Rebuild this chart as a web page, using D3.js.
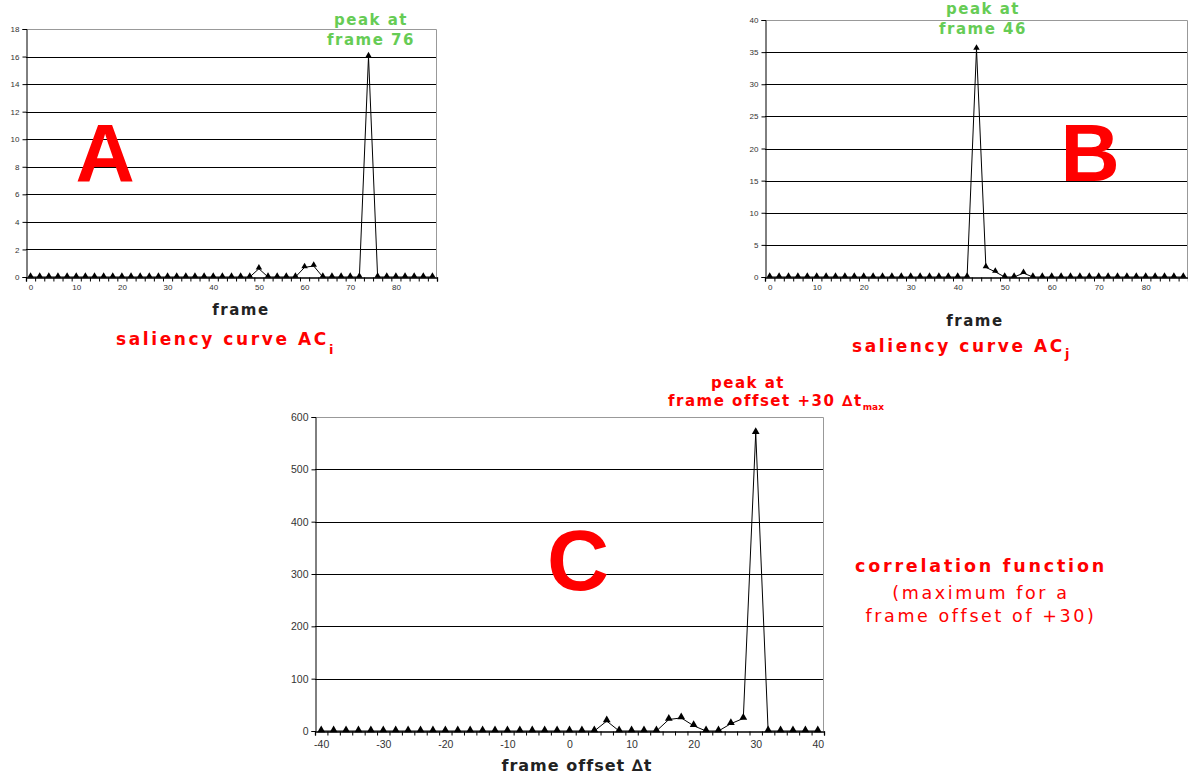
<!DOCTYPE html>
<html>
<head>
<meta charset="utf-8">
<script src="https://cdn.jsdelivr.net/npm/d3@7"></script>
<style>
    body { margin: 0; background: #fff; }
    svg { display: block; }
    .tick text { fill: #333; }
</style>
</head>
<body>
<svg id="figure" width="1188" height="778"></svg>
<script>
// frames sampled every 2 frames (curves A and B)
let framesA = [0, 2, 4, 6, 8, 10, 12, 14, 16, 18, 20, 22, 24, 26, 28, 30, 32, 34, 36, 38, 40, 42, 44,
    46, 48, 50, 52, 54, 56, 58, 60, 62, 64, 66, 68, 70, 72, 74, 76, 78, 80, 82, 84, 86, 88];
let valuesA = [0, 0, 0, 0, 0, 0, 0, 0, 0, 0, 0, 0, 0, 0, 0, 0, 0, 0, 0, 0, 0, 0, 0,
    0, 0, 0.6, 0, 0, 0, 0, 0.7, 0.8, 0, 0, 0, 0, 0, 16, 0, 0, 0, 0, 0, 0, 0];

let framesB = framesA;
let valuesB = [0, 0, 0, 0, 0, 0, 0, 0, 0, 0, 0, 0, 0, 0, 0, 0, 0, 0, 0, 0, 0, 0, 35.5,
    1.5, 0.8, 0, 0, 0.6, 0, 0, 0, 0, 0, 0, 0, 0, 0, 0, 0, 0, 0, 0, 0, 0, 0];

// frame offsets for the correlation function
let offsetsC = [-40, -38, -36, -34, -32, -30, -28, -26, -24, -22, -20, -18, -16, -14, -12, -10, -8, -6, -4, -2,
    0, 2, 4, 6, 8, 10, 12, 14, 16, 18, 20, 22, 24, 26, 28, 30, 32, 34, 36, 38, 40];
let valuesC = [0, 0, 0, 0, 0, 0, 0, 0, 0, 0, 0, 0, 0, 0, 0, 0, 0, 0, 0, 0,
    0, 0, 0, 19, 0, 0, 0, 0, 22, 25, 10, 0, 0, 14, 24, 570, 0, 0, 0, 0, 0];

let xLabelsAB = [0, 10, 20, 30, 40, 50, 60, 70, 80];
let yTicksA = [0, 2, 4, 6, 8, 10, 12, 14, 16, 18];
let yTicksB = [0, 5, 10, 15, 20, 25, 30, 35, 40];
let xLabelsC = [-40, -30, -20, -10, 0, 10, 20, 30, 40];
let yTicksC = [0, 100, 200, 300, 400, 500, 600];

let svg = d3.select("#figure");
// plain hyphen for negatives, like the original spreadsheet
let plain = function (d) { return String(d); };

function drawChart(o) {
    let x = d3.scaleLinear().domain(o.xDomain).range([o.left, o.right]);
    let y = d3.scaleLinear().domain(o.yDomain).range([o.bottom, o.top]);
    let g = svg.append("g");

    // horizontal grid lines
    g.selectAll(".grid")
        .data(o.yTicks.slice(1, -1))
        .enter().append("line")
        .attr("x1", o.left).attr("x2", o.right)
        .attr("y1", function (d) { return Math.round(y(d)) + 0.5; })
        .attr("y2", function (d) { return Math.round(y(d)) + 0.5; })
        .attr("stroke", "#000")
        .attr("stroke-width", 1);

    // top and right border
    g.append("path")
        .attr("d", "M" + o.left + "," + (Math.round(o.top) + 0.5) + "H" + (o.right - 0.5) + "V" + o.bottom)
        .attr("fill", "none")
        .attr("stroke", "#999");

    // y axis
    let yAxis = g.append("g")
        .attr("transform", "translate(" + (o.left + 0.5) + ",0)")
        .call(d3.axisLeft(y).tickValues(o.yTicks).tickSize(4).tickPadding(3).tickFormat(plain));
    yAxis.selectAll("text")
        .attr("font-family", "Liberation Sans, Arial, sans-serif")
        .attr("font-size", o.tickFont);

    // x axis: minor ticks between the categories, labels on the values
    let minor = o.xData.map(function (d) { return d - 1; }).concat([o.xData[o.xData.length - 1] + 1]);
    let xAxis = g.append("g")
        .attr("transform", "translate(0," + (Math.round(o.bottom) + 0.5) + ")")
        .call(d3.axisBottom(x).tickValues(minor).tickSize(4).tickFormat(""));
    xAxis.select(".domain").attr("stroke-width", 1.3);

    let xLab = g.append("g")
        .attr("transform", "translate(0," + (Math.round(o.bottom) + 0.5) + ")")
        .call(d3.axisBottom(x).tickValues(o.xLabels).tickSize(0).tickPadding(o.labelPad).tickFormat(plain));
    xLab.select(".domain").remove();
    xLab.selectAll("text")
        .attr("font-family", "Liberation Sans, Arial, sans-serif")
        .attr("font-size", o.tickFont);

    // the curve
    let line = d3.line()
        .x(function (d, i) { return x(o.xData[i]); })
        .y(function (d) { return y(d); });

    g.append("path")
        .datum(o.values)
        .attr("d", line)
        .attr("fill", "none")
        .attr("stroke", "#000")
        .attr("stroke-width", 1);

    g.selectAll(".marker")
        .data(o.values)
        .enter().append("path")
        .attr("class", "marker")
        .attr("d", d3.symbol(d3.symbolTriangle).size(o.markerSize))
        .attr("transform", function (d, i) { return "translate(" + x(o.xData[i]) + "," + (y(d) - 1) + ")"; })
        .attr("fill", "#000");
}

drawChart({
    xDomain: [-1, 89], yDomain: [0, 18], left: 26, right: 437, top: 29, bottom: 277,
    xData: framesA, values: valuesA, xLabels: xLabelsAB, yTicks: yTicksA,
    tickFont: 8, labelPad: 7, markerSize: 18
});

drawChart({
    xDomain: [-1, 89], yDomain: [0, 40], left: 765, right: 1188, top: 20, bottom: 277,
    xData: framesB, values: valuesB, xLabels: xLabelsAB, yTicks: yTicksB,
    tickFont: 8, labelPad: 7, markerSize: 18
});

drawChart({
    xDomain: [-41, 41], yDomain: [0, 600], left: 315, right: 824, top: 417, bottom: 731,
    xData: offsetsC, values: valuesC, xLabels: xLabelsC, yTicks: yTicksC,
    tickFont: 10.5, labelPad: 9, markerSize: 26
});

// ---- annotations ----
let verdana = "DejaVu Sans, Verdana, sans-serif";

function label(x, y, txt, size, color, weight, spacing) {
    return svg.append("text")
        .attr("x", x).attr("y", y)
        .attr("text-anchor", "middle")
        .attr("font-family", verdana)
        .attr("font-size", size)
        .attr("font-weight", weight)
        .attr("letter-spacing", spacing)
        .attr("fill", color)
        .text(txt);
}

let green = "#66cc55";
let red = "#ff0000";

// big letters
svg.append("text").attr("x", 105).attr("y", 181).attr("text-anchor", "middle")
    .attr("font-family", "Liberation Sans, Arial, sans-serif").attr("font-weight", "bold")
    .attr("font-size", 82).attr("fill", red).text("A");
svg.append("text").attr("x", 1090).attr("y", 181).attr("text-anchor", "middle")
    .attr("font-family", "Liberation Sans, Arial, sans-serif").attr("font-weight", "bold")
    .attr("font-size", 82).attr("fill", red).text("B");
svg.append("text").attr("x", 578).attr("y", 590).attr("text-anchor", "middle")
    .attr("font-family", "Liberation Sans, Arial, sans-serif").attr("font-weight", "bold")
    .attr("font-size", 86).attr("fill", red).text("C");

// peak labels
label(371, 25, "peak at", 15, green, "bold", 1.5);
label(371, 45, "frame 76", 15, green, "bold", 1.5);
label(983, 14, "peak at", 15, green, "bold", 1.5);
label(983, 34, "frame 46", 15, green, "bold", 1.5);

// axis titles
label(241, 315, "frame", 15, "#222", "bold", 1.5);
label(975, 326, "frame", 15, "#222", "bold", 1.5);
label(577, 771, "frame offset \u2206t", 16, "#222", "bold", 1);

// captions
let capA = label(226, 345, "saliency curve AC", 17, red, "bold", 2.6);
capA.append("tspan").attr("font-size", 13).attr("dy", 9).text("i");
let capB = label(962, 352, "saliency curve AC", 17, red, "bold", 2.6);
capB.append("tspan").attr("font-size", 13).attr("dy", 6).text("j");

label(748, 388, "peak at", 15, red, "bold", 1.5);
let pk = label(776, 406, "frame offset +30 \u2206t", 15, red, "bold", 1.5);
pk.append("tspan").attr("font-size", 9).attr("dy", 4).attr("letter-spacing", 0).text("max");

label(981, 572, "correlation function", 17.5, red, "bold", 2.8);
label(981, 599, "(maximum for a", 17.5, red, "normal", 2.6);
label(981, 622, "frame offset of +30)", 17.5, red, "normal", 2.6);
</script>
</body>
</html>
